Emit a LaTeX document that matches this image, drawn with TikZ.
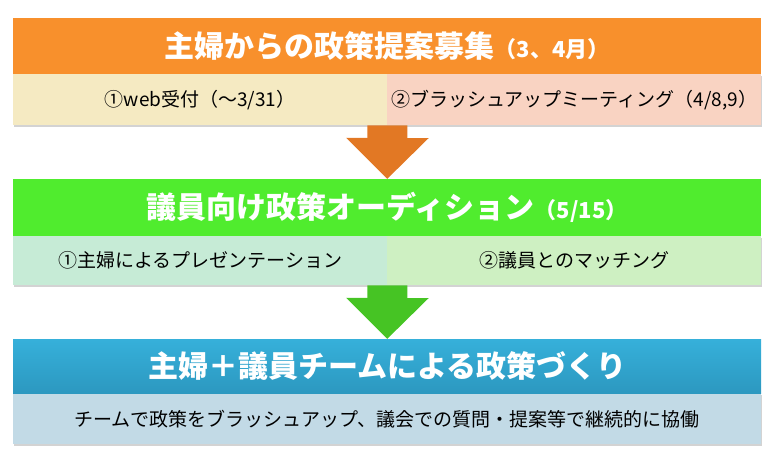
\documentclass[tikz,border=0pt]{standalone}
\usepackage{fontspec}
\newfontfamily\jpfont{Noto Sans CJK JP}
\usepackage{xcolor}
\definecolor{hdrorange}{RGB}{248,144,44}
\definecolor{subyellow}{RGB}{245,234,194}
\definecolor{subpeach}{RGB}{249,211,194}
\definecolor{arroworange}{RGB}{226,120,36}
\definecolor{hdrgreen}{RGB}{80,236,46}
\definecolor{submint}{RGB}{198,235,214}
\definecolor{sublightgreen}{RGB}{206,240,194}
\definecolor{arrowgreen}{RGB}{70,196,36}
\definecolor{hdrblue}{RGB}{54,176,218}
\definecolor{hdrbluedark}{RGB}{44,152,192}
\definecolor{subblue}{RGB}{194,218,230}
\usepackage{tikz}
\usetikzlibrary{arrows.meta}
\usetikzlibrary{shadows}
\newcommand{\smallpar}[1]{{\fontsize{22}{26}\selectfont #1}}
\tikzset{
    common/.style={anchor=north west, rectangle, inner sep=0pt},
    header/.style={common, minimum width=748pt, text=white, font=\jpfont\bfseries\fontsize{30}{36}\selectfont},
    sub/.style={common, minimum width=374pt, font=\jpfont\fontsize{19}{23}\selectfont,
        drop shadow={shadow xshift=1pt, shadow yshift=-2pt, opacity=0.35}},
    subwide/.style={sub, minimum width=748pt},
    flow-arrow/.style={line width=40pt, -{Triangle[length=41pt, width=80pt]}}
}

\begin{document}
\begin{tikzpicture}[x=1pt, y=-1pt]
              \useasboundingbox (0,0) rectangle (775,468);

              % step 1
              \path
                (13,74) node[sub, fill=subyellow, minimum height=51pt] (sub-a1) {①web受付（～3/31）}
                (387,74) node[sub, fill=subpeach, minimum height=51pt] (sub-a2) {②ブラッシュアップミーティング（4/8,9）}
                (13,18) node[header, fill=hdrorange, minimum height=56pt] (hdr-a) {主婦からの政策提案募集\smallpar{（3、4月）}};

              % step 2
              \path
                (13,236) node[sub, fill=submint, minimum height=49pt] (sub-b1) {①主婦によるプレゼンテーション}
                (387,236) node[sub, fill=sublightgreen, minimum height=49pt] (sub-b2) {②議員とのマッチング}
                (13,179) node[header, fill=hdrgreen, minimum height=57pt] (hdr-b) {議員向け政策オーディション\smallpar{（5/15）}};

              % step 3
              \path
                (13,393) node[subwide, fill=subblue, minimum height=51pt] (sub-c) {チームで政策をブラッシュアップ、議会での質問・提案等で継続的に協働}
                (13,339) node[header, top color=hdrblue, bottom color=hdrbluedark, minimum height=54pt] (hdr-c) {主婦＋議員チームによる政策づくり};

              \draw[flow-arrow, arroworange] (sub-a1.south east) -- (hdr-b.north);
              \draw[flow-arrow, arrowgreen] (sub-b1.south east) -- (hdr-c.north);
\end{tikzpicture}
\end{document}
